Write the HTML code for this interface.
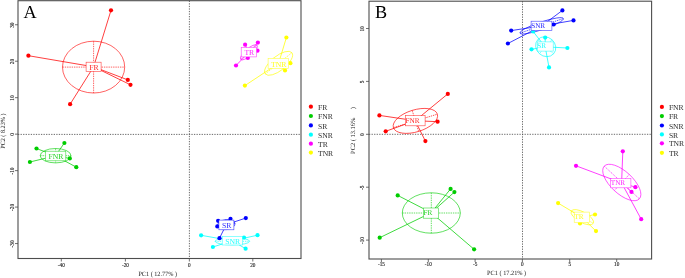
<!DOCTYPE html>
<html><head><meta charset="utf-8"><style>
html,body{margin:0;padding:0;background:#fff;width:685px;height:278px;overflow:hidden}
svg{display:block;will-change:transform;text-rendering:geometricPrecision;font-family:"Liberation Serif",serif}
</style></head><body>
<svg width="685" height="278" viewBox="0 0 685 278">
<rect width="685" height="278" fill="#fff"/>
<line x1="18" y1="134.4" x2="301" y2="134.4" stroke="#505050" stroke-width="0.85" stroke-dasharray="1.3 1.25"/>
<line x1="189.4" y1="0.7" x2="189.4" y2="258.5" stroke="#505050" stroke-width="0.85" stroke-dasharray="1.3 1.25"/>
<g transform="translate(93.6,67.1) rotate(0)"><ellipse cx="0" cy="0" rx="31.1" ry="25.9" fill="none" stroke="#ff0000" stroke-width="0.62"/><line x1="-31.1" y1="0" x2="31.1" y2="0" stroke="#ff0000" stroke-width="0.65" stroke-opacity="0.95" stroke-dasharray="1.4 0.9"/><line x1="0" y1="-25.9" x2="0" y2="25.9" stroke="#ff0000" stroke-width="0.65" stroke-opacity="0.95" stroke-dasharray="1.4 0.9"/></g>
<line x1="93.6" y1="66.8" x2="111" y2="10.3" stroke="#ff0000" stroke-width="0.75"/>
<line x1="93.6" y1="66.8" x2="28.4" y2="55.7" stroke="#ff0000" stroke-width="0.75"/>
<line x1="93.6" y1="66.8" x2="70.1" y2="104.2" stroke="#ff0000" stroke-width="0.75"/>
<line x1="93.6" y1="66.8" x2="127.8" y2="79.9" stroke="#ff0000" stroke-width="0.75"/>
<line x1="93.6" y1="66.8" x2="130.5" y2="84.8" stroke="#ff0000" stroke-width="0.75"/>
<g transform="translate(55.6,155.7) rotate(0)"><ellipse cx="0" cy="0" rx="15.4" ry="7.2" fill="none" stroke="#00cd00" stroke-width="0.62"/><line x1="-15.4" y1="0" x2="15.4" y2="0" stroke="#00cd00" stroke-width="0.65" stroke-opacity="0.95" stroke-dasharray="1.4 0.9"/><line x1="0" y1="-7.2" x2="0" y2="7.2" stroke="#00cd00" stroke-width="0.65" stroke-opacity="0.95" stroke-dasharray="1.4 0.9"/></g>
<line x1="55.4" y1="155.8" x2="36.5" y2="148.5" stroke="#00cd00" stroke-width="0.75"/>
<line x1="55.4" y1="155.8" x2="64.4" y2="143" stroke="#00cd00" stroke-width="0.75"/>
<line x1="55.4" y1="155.8" x2="29.9" y2="162" stroke="#00cd00" stroke-width="0.75"/>
<line x1="55.4" y1="155.8" x2="69.8" y2="158.4" stroke="#00cd00" stroke-width="0.75"/>
<line x1="55.4" y1="155.8" x2="76.3" y2="167.2" stroke="#00cd00" stroke-width="0.75"/>
<g transform="translate(226.3,224.6) rotate(-8)"><ellipse cx="0" cy="0" rx="8.8" ry="5" fill="none" stroke="#0000ff" stroke-width="0.62"/><line x1="-8.8" y1="0" x2="8.8" y2="0" stroke="#0000ff" stroke-width="0.65" stroke-opacity="0.95" stroke-dasharray="1.4 0.9"/><line x1="0" y1="-5" x2="0" y2="5" stroke="#0000ff" stroke-width="0.65" stroke-opacity="0.95" stroke-dasharray="1.4 0.9"/></g>
<line x1="226.3" y1="224.5" x2="218.1" y2="220.8" stroke="#0000ff" stroke-width="0.75"/>
<line x1="226.3" y1="224.5" x2="230.5" y2="218.8" stroke="#0000ff" stroke-width="0.75"/>
<line x1="226.3" y1="224.5" x2="245.8" y2="218.1" stroke="#0000ff" stroke-width="0.75"/>
<line x1="226.3" y1="224.5" x2="217.3" y2="226.4" stroke="#0000ff" stroke-width="0.75"/>
<line x1="226.3" y1="224.5" x2="219.5" y2="238.2" stroke="#0000ff" stroke-width="0.75"/>
<g transform="translate(232.4,241.3) rotate(0)"><ellipse cx="0" cy="0" rx="17.3" ry="3.6" fill="none" stroke="#00ffff" stroke-width="0.62"/><line x1="-17.3" y1="0" x2="17.3" y2="0" stroke="#00ffff" stroke-width="0.65" stroke-opacity="0.95" stroke-dasharray="1.4 0.9"/><line x1="0" y1="-3.6" x2="0" y2="3.6" stroke="#00ffff" stroke-width="0.65" stroke-opacity="0.95" stroke-dasharray="1.4 0.9"/></g>
<line x1="232.2" y1="240.8" x2="201.1" y2="235.3" stroke="#00ffff" stroke-width="0.75"/>
<line x1="232.2" y1="240.8" x2="212.9" y2="247" stroke="#00ffff" stroke-width="0.75"/>
<line x1="232.2" y1="240.8" x2="244" y2="237.6" stroke="#00ffff" stroke-width="0.75"/>
<line x1="232.2" y1="240.8" x2="257.5" y2="235.2" stroke="#00ffff" stroke-width="0.75"/>
<line x1="232.2" y1="240.8" x2="245.6" y2="248.7" stroke="#00ffff" stroke-width="0.75"/>
<g transform="translate(248.9,52.3) rotate(-41)"><ellipse cx="0" cy="0" rx="10.8" ry="3.6" fill="none" stroke="#ff00ff" stroke-width="0.62"/><line x1="-10.8" y1="0" x2="10.8" y2="0" stroke="#ff00ff" stroke-width="0.65" stroke-opacity="0.95" stroke-dasharray="1.4 0.9"/><line x1="0" y1="-3.6" x2="0" y2="3.6" stroke="#ff00ff" stroke-width="0.65" stroke-opacity="0.95" stroke-dasharray="1.4 0.9"/></g>
<line x1="248.9" y1="52.3" x2="245.1" y2="44.7" stroke="#ff00ff" stroke-width="0.75"/>
<line x1="248.9" y1="52.3" x2="257.9" y2="42.6" stroke="#ff00ff" stroke-width="0.75"/>
<line x1="248.9" y1="52.3" x2="257.5" y2="50.7" stroke="#ff00ff" stroke-width="0.75"/>
<line x1="248.9" y1="52.3" x2="247.8" y2="57.9" stroke="#ff00ff" stroke-width="0.75"/>
<line x1="248.9" y1="52.3" x2="236" y2="65.5" stroke="#ff00ff" stroke-width="0.75"/>
<g transform="translate(278.6,63.3) rotate(-38.6)"><ellipse cx="0" cy="0" rx="17" ry="7.2" fill="none" stroke="#ffff00" stroke-width="0.62"/><line x1="-17" y1="0" x2="17" y2="0" stroke="#ffff00" stroke-width="0.65" stroke-opacity="0.95" stroke-dasharray="1.4 0.9"/><line x1="0" y1="-7.2" x2="0" y2="7.2" stroke="#ffff00" stroke-width="0.65" stroke-opacity="0.95" stroke-dasharray="1.4 0.9"/></g>
<line x1="278.6" y1="63.3" x2="286.4" y2="37.5" stroke="#ffff00" stroke-width="0.75"/>
<line x1="278.6" y1="63.3" x2="244.9" y2="85.6" stroke="#ffff00" stroke-width="0.75"/>
<line x1="278.6" y1="63.3" x2="290.4" y2="63.2" stroke="#ffff00" stroke-width="0.75"/>
<line x1="278.6" y1="63.3" x2="285" y2="70.4" stroke="#ffff00" stroke-width="0.75"/>
<circle cx="111" cy="10.3" r="2.1" fill="#ff0000"/>
<circle cx="28.4" cy="55.7" r="2.1" fill="#ff0000"/>
<circle cx="70.1" cy="104.2" r="2.1" fill="#ff0000"/>
<circle cx="127.8" cy="79.9" r="2.1" fill="#ff0000"/>
<circle cx="130.5" cy="84.8" r="2.1" fill="#ff0000"/>
<circle cx="36.5" cy="148.5" r="2.1" fill="#00cd00"/>
<circle cx="64.4" cy="143" r="2.1" fill="#00cd00"/>
<circle cx="29.9" cy="162" r="2.1" fill="#00cd00"/>
<circle cx="69.8" cy="158.4" r="2.1" fill="#00cd00"/>
<circle cx="76.3" cy="167.2" r="2.1" fill="#00cd00"/>
<circle cx="218.1" cy="220.8" r="2.1" fill="#0000ff"/>
<circle cx="230.5" cy="218.8" r="2.1" fill="#0000ff"/>
<circle cx="245.8" cy="218.1" r="2.1" fill="#0000ff"/>
<circle cx="217.3" cy="226.4" r="2.1" fill="#0000ff"/>
<circle cx="219.5" cy="238.2" r="2.1" fill="#0000ff"/>
<circle cx="201.1" cy="235.3" r="2.1" fill="#00ffff"/>
<circle cx="212.9" cy="247" r="2.1" fill="#00ffff"/>
<circle cx="244" cy="237.6" r="2.1" fill="#00ffff"/>
<circle cx="257.5" cy="235.2" r="2.1" fill="#00ffff"/>
<circle cx="245.6" cy="248.7" r="2.1" fill="#00ffff"/>
<circle cx="245.1" cy="44.7" r="2.1" fill="#ff00ff"/>
<circle cx="257.9" cy="42.6" r="2.1" fill="#ff00ff"/>
<circle cx="257.5" cy="50.7" r="2.1" fill="#ff00ff"/>
<circle cx="247.8" cy="57.9" r="2.1" fill="#ff00ff"/>
<circle cx="236" cy="65.5" r="2.1" fill="#ff00ff"/>
<circle cx="286.4" cy="37.5" r="2.1" fill="#ffff00"/>
<circle cx="244.9" cy="85.6" r="2.1" fill="#ffff00"/>
<circle cx="290.4" cy="63.2" r="2.1" fill="#ffff00"/>
<circle cx="285" cy="70.4" r="2.1" fill="#ffff00"/>
<rect x="86.1" y="62.2" width="15.00" height="9.20" fill="#fff" stroke="#ff0000" stroke-width="0.6" stroke-opacity="0.75"/>
<text x="94.0" y="70.00000000000001" font-size="7.7" fill="#ff0000" fill-opacity="0.88" text-anchor="middle">FR</text>
<rect x="45.3" y="151.2" width="20.50" height="9.60" fill="#fff" stroke="#00cd00" stroke-width="0.6" stroke-opacity="0.75"/>
<text x="55.949999999999996" y="159.2" font-size="7.7" fill="#00cd00" fill-opacity="0.88" text-anchor="middle">FNR</text>
<rect x="218.9" y="220.1" width="15.00" height="9.70" fill="#fff" stroke="#0000ff" stroke-width="0.6" stroke-opacity="0.75"/>
<text x="226.8" y="228.14999999999998" font-size="7.7" fill="#0000ff" fill-opacity="0.88" text-anchor="middle">SR</text>
<rect x="222.2" y="236.4" width="20.20" height="8.60" fill="#fff" stroke="#00ffff" stroke-width="0.6" stroke-opacity="0.75"/>
<text x="232.70000000000002" y="243.89999999999998" font-size="7.7" fill="#00ffff" fill-opacity="0.88" text-anchor="middle">SNR</text>
<rect x="241.2" y="47.3" width="15.40" height="9.60" fill="#fff" stroke="#ff00ff" stroke-width="0.6" stroke-opacity="0.75"/>
<text x="249.3" y="55.3" font-size="7.7" fill="#ff00ff" fill-opacity="0.88" text-anchor="middle">TR</text>
<rect x="268.1" y="58.3" width="20.50" height="10.10" fill="#fff" stroke="#ffff00" stroke-width="0.6" stroke-opacity="0.75"/>
<text x="278.75" y="66.55" font-size="7.7" fill="#ffff00" fill-opacity="0.88" text-anchor="middle">TNR</text>
<rect x="18" y="0.7" width="283.00" height="257.80" fill="none" stroke="#4d4d4d" stroke-width="1.1"/>
<line x1="61.30" y1="258.5" x2="61.30" y2="261.5" stroke="#4d4d4d" stroke-width="0.8"/>
<text x="61.3" y="266.8" font-size="5.2" fill="#1a1a1a" stroke="#333" stroke-width="0.15" text-rendering="optimizeLegibility" text-anchor="middle">-40</text>
<line x1="125.40" y1="258.5" x2="125.40" y2="261.5" stroke="#4d4d4d" stroke-width="0.8"/>
<text x="125.4" y="266.8" font-size="5.2" fill="#1a1a1a" stroke="#333" stroke-width="0.15" text-rendering="optimizeLegibility" text-anchor="middle">-20</text>
<line x1="189.35" y1="258.5" x2="189.35" y2="261.5" stroke="#4d4d4d" stroke-width="0.8"/>
<text x="189.35" y="266.8" font-size="5.2" fill="#1a1a1a" stroke="#333" stroke-width="0.15" text-rendering="optimizeLegibility" text-anchor="middle">0</text>
<line x1="252.80" y1="258.5" x2="252.80" y2="261.5" stroke="#4d4d4d" stroke-width="0.8"/>
<text x="252.8" y="266.8" font-size="5.2" fill="#1a1a1a" stroke="#333" stroke-width="0.15" text-rendering="optimizeLegibility" text-anchor="middle">20</text>
<line x1="15" y1="24.75" x2="18" y2="24.75" stroke="#4d4d4d" stroke-width="0.8"/>
<text transform="translate(13.6,25.152000000000008) rotate(-90)" font-size="5.2" fill="#1a1a1a" stroke="#333" stroke-width="0.15" text-rendering="optimizeLegibility" text-anchor="middle">30</text>
<line x1="15" y1="61.22" x2="18" y2="61.22" stroke="#4d4d4d" stroke-width="0.8"/>
<text transform="translate(13.6,61.618) rotate(-90)" font-size="5.2" fill="#1a1a1a" stroke="#333" stroke-width="0.15" text-rendering="optimizeLegibility" text-anchor="middle">20</text>
<line x1="15" y1="97.68" x2="18" y2="97.68" stroke="#4d4d4d" stroke-width="0.8"/>
<text transform="translate(13.6,98.084) rotate(-90)" font-size="5.2" fill="#1a1a1a" stroke="#333" stroke-width="0.15" text-rendering="optimizeLegibility" text-anchor="middle">10</text>
<line x1="15" y1="134.15" x2="18" y2="134.15" stroke="#4d4d4d" stroke-width="0.8"/>
<text transform="translate(13.6,134.55) rotate(-90)" font-size="5.2" fill="#1a1a1a" stroke="#333" stroke-width="0.15" text-rendering="optimizeLegibility" text-anchor="middle">0</text>
<line x1="15" y1="170.62" x2="18" y2="170.62" stroke="#4d4d4d" stroke-width="0.8"/>
<text transform="translate(13.6,171.01600000000002) rotate(-90)" font-size="5.2" fill="#1a1a1a" stroke="#333" stroke-width="0.15" text-rendering="optimizeLegibility" text-anchor="middle">-10</text>
<line x1="15" y1="207.08" x2="18" y2="207.08" stroke="#4d4d4d" stroke-width="0.8"/>
<text transform="translate(13.6,207.482) rotate(-90)" font-size="5.2" fill="#1a1a1a" stroke="#333" stroke-width="0.15" text-rendering="optimizeLegibility" text-anchor="middle">-20</text>
<line x1="15" y1="243.55" x2="18" y2="243.55" stroke="#4d4d4d" stroke-width="0.8"/>
<text transform="translate(13.6,243.948) rotate(-90)" font-size="5.2" fill="#1a1a1a" stroke="#333" stroke-width="0.15" text-rendering="optimizeLegibility" text-anchor="middle">-30</text>
<text x="138.4" y="276.3" font-size="6.4" fill="#1a1a1a" textLength="38.6" lengthAdjust="spacingAndGlyphs">PC1 ( 12.77% )</text>
<text transform="translate(4.9,148.8) rotate(-90)" font-size="6.4" fill="#1a1a1a" textLength="35.3" lengthAdjust="spacingAndGlyphs">PC2 ( 8.23% )</text>
<text x="23.4" y="17.7" font-size="18.2" fill="#000">A</text>
<line x1="369" y1="134.3" x2="651.6" y2="134.3" stroke="#505050" stroke-width="0.85" stroke-dasharray="1.3 1.25"/>
<line x1="522.5" y1="1.2" x2="522.5" y2="259" stroke="#505050" stroke-width="0.85" stroke-dasharray="1.3 1.25"/>
<g transform="translate(415.4,120.9) rotate(-17)"><ellipse cx="0" cy="0" rx="23" ry="11" fill="none" stroke="#ff0000" stroke-width="0.62"/><line x1="-23" y1="0" x2="23" y2="0" stroke="#ff0000" stroke-width="0.65" stroke-opacity="0.95" stroke-dasharray="1.4 0.9"/><line x1="0" y1="-11" x2="0" y2="11" stroke="#ff0000" stroke-width="0.65" stroke-opacity="0.95" stroke-dasharray="1.4 0.9"/></g>
<line x1="415.2" y1="120.7" x2="379.4" y2="115.4" stroke="#ff0000" stroke-width="0.75"/>
<line x1="415.2" y1="120.7" x2="447.8" y2="93.9" stroke="#ff0000" stroke-width="0.75"/>
<line x1="415.2" y1="120.7" x2="385.7" y2="131.3" stroke="#ff0000" stroke-width="0.75"/>
<line x1="415.2" y1="120.7" x2="437.6" y2="121.7" stroke="#ff0000" stroke-width="0.75"/>
<line x1="415.2" y1="120.7" x2="425.4" y2="141.1" stroke="#ff0000" stroke-width="0.75"/>
<g transform="translate(431.3,213.0) rotate(0)"><ellipse cx="0" cy="0" rx="29" ry="20.2" fill="none" stroke="#00cd00" stroke-width="0.62"/><line x1="-29" y1="0" x2="29" y2="0" stroke="#00cd00" stroke-width="0.65" stroke-opacity="0.95" stroke-dasharray="1.4 0.9"/><line x1="0" y1="-20.2" x2="0" y2="20.2" stroke="#00cd00" stroke-width="0.65" stroke-opacity="0.95" stroke-dasharray="1.4 0.9"/></g>
<line x1="431.3" y1="212.7" x2="397.7" y2="195.4" stroke="#00cd00" stroke-width="0.75"/>
<line x1="431.3" y1="212.7" x2="450.6" y2="188.9" stroke="#00cd00" stroke-width="0.75"/>
<line x1="431.3" y1="212.7" x2="454.4" y2="192.1" stroke="#00cd00" stroke-width="0.75"/>
<line x1="431.3" y1="212.7" x2="379.7" y2="237.7" stroke="#00cd00" stroke-width="0.75"/>
<line x1="431.3" y1="212.7" x2="474.1" y2="249.3" stroke="#00cd00" stroke-width="0.75"/>
<g transform="translate(541.7,25.8) rotate(-18.6)"><ellipse cx="0" cy="0" rx="22.9" ry="3.8" fill="none" stroke="#0000ff" stroke-width="0.62"/><line x1="-22.9" y1="0" x2="22.9" y2="0" stroke="#0000ff" stroke-width="0.65" stroke-opacity="0.95" stroke-dasharray="1.4 0.9"/><line x1="0" y1="-3.8" x2="0" y2="3.8" stroke="#0000ff" stroke-width="0.65" stroke-opacity="0.95" stroke-dasharray="1.4 0.9"/></g>
<line x1="541.7" y1="25.9" x2="511.2" y2="30.6" stroke="#0000ff" stroke-width="0.75"/>
<line x1="541.7" y1="25.9" x2="507.9" y2="43.5" stroke="#0000ff" stroke-width="0.75"/>
<line x1="541.7" y1="25.9" x2="562.4" y2="10.4" stroke="#0000ff" stroke-width="0.75"/>
<line x1="541.7" y1="25.9" x2="573.5" y2="20.4" stroke="#0000ff" stroke-width="0.75"/>
<line x1="541.7" y1="25.9" x2="553.7" y2="24.5" stroke="#0000ff" stroke-width="0.75"/>
<g transform="translate(545.7,46.7) rotate(42)"><ellipse cx="0" cy="0" rx="10.6" ry="9.4" fill="none" stroke="#00ffff" stroke-width="0.62"/><line x1="-10.6" y1="0" x2="10.6" y2="0" stroke="#00ffff" stroke-width="0.65" stroke-opacity="0.95" stroke-dasharray="1.4 0.9"/><line x1="0" y1="-9.4" x2="0" y2="9.4" stroke="#00ffff" stroke-width="0.65" stroke-opacity="0.95" stroke-dasharray="1.4 0.9"/></g>
<line x1="545.2" y1="46.8" x2="545.2" y2="37.6" stroke="#00ffff" stroke-width="0.75"/>
<line x1="545.2" y1="46.8" x2="531.5" y2="49.3" stroke="#00ffff" stroke-width="0.75"/>
<line x1="545.2" y1="46.8" x2="567.4" y2="48" stroke="#00ffff" stroke-width="0.75"/>
<line x1="545.2" y1="46.8" x2="549" y2="67.4" stroke="#00ffff" stroke-width="0.75"/>
<line x1="545.2" y1="46.8" x2="533.1" y2="31.5" stroke="#00ffff" stroke-width="0.75"/>
<g transform="translate(621.8,182.5) rotate(43)"><ellipse cx="0" cy="0" rx="24" ry="11" fill="none" stroke="#ff00ff" stroke-width="0.62"/><line x1="-24" y1="0" x2="24" y2="0" stroke="#ff00ff" stroke-width="0.65" stroke-opacity="0.95" stroke-dasharray="1.4 0.9"/><line x1="0" y1="-11" x2="0" y2="11" stroke="#ff00ff" stroke-width="0.65" stroke-opacity="0.95" stroke-dasharray="1.4 0.9"/></g>
<line x1="621.6" y1="182.9" x2="622.8" y2="151.3" stroke="#ff00ff" stroke-width="0.75"/>
<line x1="621.6" y1="182.9" x2="576" y2="165.8" stroke="#ff00ff" stroke-width="0.75"/>
<line x1="621.6" y1="182.9" x2="635.4" y2="187.2" stroke="#ff00ff" stroke-width="0.75"/>
<line x1="621.6" y1="182.9" x2="631.5" y2="191.9" stroke="#ff00ff" stroke-width="0.75"/>
<line x1="621.6" y1="182.9" x2="641.2" y2="219.2" stroke="#ff00ff" stroke-width="0.75"/>
<g transform="translate(582.3,217.2) rotate(29)"><ellipse cx="0" cy="0" rx="12.6" ry="5.2" fill="none" stroke="#ffff00" stroke-width="0.62"/><line x1="-12.6" y1="0" x2="12.6" y2="0" stroke="#ffff00" stroke-width="0.65" stroke-opacity="0.95" stroke-dasharray="1.4 0.9"/><line x1="0" y1="-5.2" x2="0" y2="5.2" stroke="#ffff00" stroke-width="0.65" stroke-opacity="0.95" stroke-dasharray="1.4 0.9"/></g>
<line x1="581.9" y1="217.3" x2="558.1" y2="203.1" stroke="#ffff00" stroke-width="0.75"/>
<line x1="581.9" y1="217.3" x2="595" y2="214.5" stroke="#ffff00" stroke-width="0.75"/>
<line x1="581.9" y1="217.3" x2="580" y2="223.4" stroke="#ffff00" stroke-width="0.75"/>
<line x1="581.9" y1="217.3" x2="596" y2="231.1" stroke="#ffff00" stroke-width="0.75"/>
<line x1="581.9" y1="217.3" x2="580.5" y2="214.7" stroke="#ffff00" stroke-width="0.75"/>
<circle cx="379.4" cy="115.4" r="2.1" fill="#ff0000"/>
<circle cx="447.8" cy="93.9" r="2.1" fill="#ff0000"/>
<circle cx="385.7" cy="131.3" r="2.1" fill="#ff0000"/>
<circle cx="437.6" cy="121.7" r="2.1" fill="#ff0000"/>
<circle cx="425.4" cy="141.1" r="2.1" fill="#ff0000"/>
<circle cx="397.7" cy="195.4" r="2.1" fill="#00cd00"/>
<circle cx="450.6" cy="188.9" r="2.1" fill="#00cd00"/>
<circle cx="454.4" cy="192.1" r="2.1" fill="#00cd00"/>
<circle cx="379.7" cy="237.7" r="2.1" fill="#00cd00"/>
<circle cx="474.1" cy="249.3" r="2.1" fill="#00cd00"/>
<circle cx="511.2" cy="30.6" r="2.1" fill="#0000ff"/>
<circle cx="507.9" cy="43.5" r="2.1" fill="#0000ff"/>
<circle cx="562.4" cy="10.4" r="2.1" fill="#0000ff"/>
<circle cx="573.5" cy="20.4" r="2.1" fill="#0000ff"/>
<circle cx="553.7" cy="24.5" r="2.1" fill="#0000ff"/>
<circle cx="545.2" cy="37.6" r="2.1" fill="#00ffff"/>
<circle cx="531.5" cy="49.3" r="2.1" fill="#00ffff"/>
<circle cx="567.4" cy="48" r="2.1" fill="#00ffff"/>
<circle cx="549" cy="67.4" r="2.1" fill="#00ffff"/>
<circle cx="533.1" cy="31.5" r="2.1" fill="#00ffff"/>
<circle cx="622.8" cy="151.3" r="2.1" fill="#ff00ff"/>
<circle cx="576" cy="165.8" r="2.1" fill="#ff00ff"/>
<circle cx="635.4" cy="187.2" r="2.1" fill="#ff00ff"/>
<circle cx="631.5" cy="191.9" r="2.1" fill="#ff00ff"/>
<circle cx="641.2" cy="219.2" r="2.1" fill="#ff00ff"/>
<circle cx="558.1" cy="203.1" r="2.1" fill="#ffff00"/>
<circle cx="595" cy="214.5" r="2.1" fill="#ffff00"/>
<circle cx="580" cy="223.4" r="2.1" fill="#ffff00"/>
<circle cx="596" cy="231.1" r="2.1" fill="#ffff00"/>
<circle cx="580.5" cy="214.7" r="2.1" fill="#ffff00"/>
<rect x="405.4" y="115.6" width="19.70" height="10.20" fill="#fff" stroke="#ff0000" stroke-width="0.6" stroke-opacity="0.75"/>
<text x="405.45" y="122.6" font-size="7.2" fill="#ff0000" fill-opacity="0.88" text-anchor="start">FNR</text>
<rect x="423.4" y="208.0" width="15.00" height="10.20" fill="#fff" stroke="#00cd00" stroke-width="0.6" stroke-opacity="0.75"/>
<text x="423.45" y="215.0" font-size="7.2" fill="#00cd00" fill-opacity="0.88" text-anchor="start">FR</text>
<rect x="531.1" y="21.2" width="20.80" height="9.40" fill="#fff" stroke="#0000ff" stroke-width="0.6" stroke-opacity="0.75"/>
<text x="531.15" y="27.799999999999997" font-size="7.2" fill="#0000ff" fill-opacity="0.88" text-anchor="start">SNR</text>
<rect x="537.3" y="41.9" width="15.90" height="9.20" fill="#fff" stroke="#00ffff" stroke-width="0.6" stroke-opacity="0.75"/>
<text x="537.3499999999999" y="48.4" font-size="7.2" fill="#00ffff" fill-opacity="0.88" text-anchor="start">SR</text>
<rect x="610.7" y="178.6" width="20.20" height="9.20" fill="#fff" stroke="#ff00ff" stroke-width="0.6" stroke-opacity="0.75"/>
<text x="610.75" y="185.1" font-size="7.2" fill="#ff00ff" fill-opacity="0.88" text-anchor="start">TNR</text>
<rect x="574.2" y="212.1" width="15.40" height="10.40" fill="#fff" stroke="#ffff00" stroke-width="0.6" stroke-opacity="0.75"/>
<text x="574.25" y="219.20000000000002" font-size="7.2" fill="#ffff00" fill-opacity="0.88" text-anchor="start">TR</text>
<rect x="369" y="1.2" width="282.60" height="257.80" fill="none" stroke="#4d4d4d" stroke-width="1.1"/>
<line x1="381.40" y1="259" x2="381.40" y2="262" stroke="#4d4d4d" stroke-width="0.8"/>
<text x="381.4" y="266.3" font-size="5.2" fill="#1a1a1a" stroke="#333" stroke-width="0.15" text-rendering="optimizeLegibility" text-anchor="middle">-15</text>
<line x1="428.30" y1="259" x2="428.30" y2="262" stroke="#4d4d4d" stroke-width="0.8"/>
<text x="428.3" y="266.3" font-size="5.2" fill="#1a1a1a" stroke="#333" stroke-width="0.15" text-rendering="optimizeLegibility" text-anchor="middle">-10</text>
<line x1="475.10" y1="259" x2="475.10" y2="262" stroke="#4d4d4d" stroke-width="0.8"/>
<text x="475.1" y="266.3" font-size="5.2" fill="#1a1a1a" stroke="#333" stroke-width="0.15" text-rendering="optimizeLegibility" text-anchor="middle">-5</text>
<line x1="522.40" y1="259" x2="522.40" y2="262" stroke="#4d4d4d" stroke-width="0.8"/>
<text x="522.4" y="266.3" font-size="5.2" fill="#1a1a1a" stroke="#333" stroke-width="0.15" text-rendering="optimizeLegibility" text-anchor="middle">0</text>
<line x1="569.70" y1="259" x2="569.70" y2="262" stroke="#4d4d4d" stroke-width="0.8"/>
<text x="569.7" y="266.3" font-size="5.2" fill="#1a1a1a" stroke="#333" stroke-width="0.15" text-rendering="optimizeLegibility" text-anchor="middle">5</text>
<line x1="616.70" y1="259" x2="616.70" y2="262" stroke="#4d4d4d" stroke-width="0.8"/>
<text x="616.7" y="266.3" font-size="5.2" fill="#1a1a1a" stroke="#333" stroke-width="0.15" text-rendering="optimizeLegibility" text-anchor="middle">10</text>
<line x1="366" y1="28.50" x2="369" y2="28.50" stroke="#4d4d4d" stroke-width="0.8"/>
<text transform="translate(364,29.000000000000014) rotate(-90)" font-size="5.2" fill="#1a1a1a" stroke="#333" stroke-width="0.15" text-rendering="optimizeLegibility" text-anchor="middle">10</text>
<line x1="366" y1="81.40" x2="369" y2="81.40" stroke="#4d4d4d" stroke-width="0.8"/>
<text transform="translate(364,81.9) rotate(-90)" font-size="5.2" fill="#1a1a1a" stroke="#333" stroke-width="0.15" text-rendering="optimizeLegibility" text-anchor="middle">5</text>
<line x1="366" y1="134.30" x2="369" y2="134.30" stroke="#4d4d4d" stroke-width="0.8"/>
<text transform="translate(364,134.8) rotate(-90)" font-size="5.2" fill="#1a1a1a" stroke="#333" stroke-width="0.15" text-rendering="optimizeLegibility" text-anchor="middle">0</text>
<line x1="366" y1="187.20" x2="369" y2="187.20" stroke="#4d4d4d" stroke-width="0.8"/>
<text transform="translate(364,187.70000000000002) rotate(-90)" font-size="5.2" fill="#1a1a1a" stroke="#333" stroke-width="0.15" text-rendering="optimizeLegibility" text-anchor="middle">-5</text>
<line x1="366" y1="240.10" x2="369" y2="240.10" stroke="#4d4d4d" stroke-width="0.8"/>
<text transform="translate(364,240.60000000000002) rotate(-90)" font-size="5.2" fill="#1a1a1a" stroke="#333" stroke-width="0.15" text-rendering="optimizeLegibility" text-anchor="middle">-10</text>
<text x="487.1" y="275" font-size="6.4" fill="#1a1a1a" textLength="39.1" lengthAdjust="spacingAndGlyphs">PC1 ( 17.21% )</text>
<text transform="translate(354.6,153.9) rotate(-90)" font-size="6.4" fill="#1a1a1a" textLength="36.2" lengthAdjust="spacingAndGlyphs">PC2 ( 13.16%</text>
<text transform="translate(354.6,109.2) rotate(-90)" font-size="6.4" fill="#1a1a1a">)</text>
<text x="375.1" y="17.7" font-size="18.2" fill="#000">B</text>
<circle cx="310.9" cy="106.7" r="2.1" fill="#ff0000"/>
<text x="318" y="109.80" font-size="7.6" fill="#2a2a2a">FR</text>
<circle cx="310.9" cy="116.0" r="2.1" fill="#00cd00"/>
<text x="318" y="119.10" font-size="7.6" fill="#2a2a2a">FNR</text>
<circle cx="310.9" cy="125.4" r="2.1" fill="#0000ff"/>
<text x="318" y="128.50" font-size="7.6" fill="#2a2a2a">SR</text>
<circle cx="310.9" cy="134.7" r="2.1" fill="#00ffff"/>
<text x="318" y="137.80" font-size="7.6" fill="#2a2a2a">SNR</text>
<circle cx="310.9" cy="143.7" r="2.1" fill="#ff00ff"/>
<text x="318" y="146.80" font-size="7.6" fill="#2a2a2a">TR</text>
<circle cx="310.9" cy="152.6" r="2.1" fill="#ffff00"/>
<text x="318" y="155.70" font-size="7.6" fill="#2a2a2a">TNR</text>
<circle cx="661.9" cy="106.9" r="2.1" fill="#ff0000"/>
<text x="668.9" y="110.00" font-size="7.6" fill="#2a2a2a">FNR</text>
<circle cx="661.9" cy="116.1" r="2.1" fill="#00cd00"/>
<text x="668.9" y="119.20" font-size="7.6" fill="#2a2a2a">FR</text>
<circle cx="661.9" cy="125.5" r="2.1" fill="#0000ff"/>
<text x="668.9" y="128.60" font-size="7.6" fill="#2a2a2a">SNR</text>
<circle cx="661.9" cy="134.4" r="2.1" fill="#00ffff"/>
<text x="668.9" y="137.50" font-size="7.6" fill="#2a2a2a">SR</text>
<circle cx="661.9" cy="143.3" r="2.1" fill="#ff00ff"/>
<text x="668.9" y="146.40" font-size="7.6" fill="#2a2a2a">TNR</text>
<circle cx="661.9" cy="152.8" r="2.1" fill="#ffff00"/>
<text x="668.9" y="155.90" font-size="7.6" fill="#2a2a2a">TR</text>
</svg>
</body></html>
